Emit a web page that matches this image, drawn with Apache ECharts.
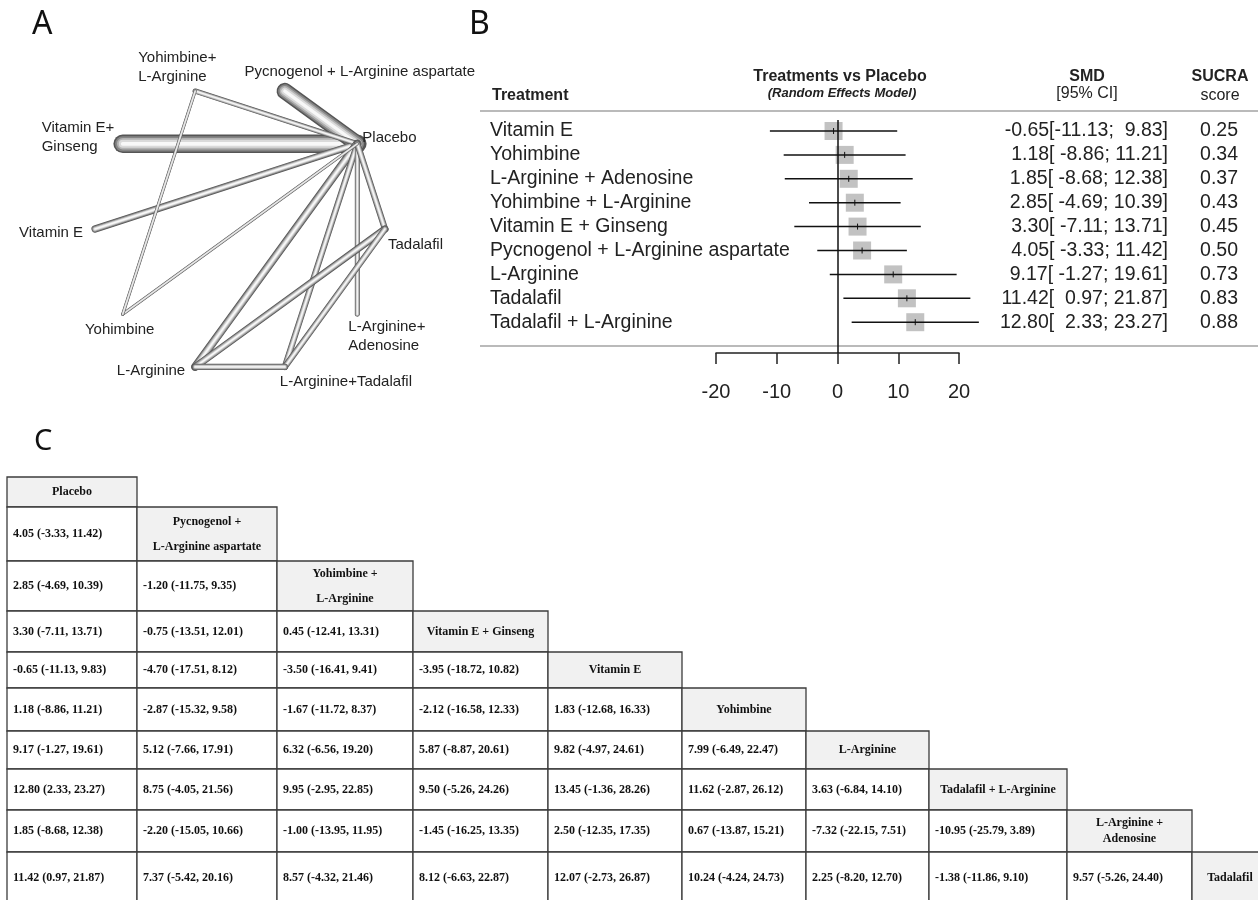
<!DOCTYPE html>
<html>
<head>
<meta charset="utf-8">
<script src="https://cdn.jsdelivr.net/npm/echarts@6.0.0/dist/echarts.min.js"></script>
<style>
  html, body { margin: 0; padding: 0; background: #fff; }
  #fig { width: 1258px; height: 900px; }
</style>
</head>
<body>
<div id="fig"></div>
<script>
// ---- A: network of comparisons ----
// nodes in circle order, starting at 3 o'clock, going anti-clockwise
const netNodes = ['Tadalafil', 'Placebo', 'Pycnogenol + L-Arginine aspartate', 'Yohimbine+\nL-Arginine',
  'Vitamin E+\nGinseng', 'Vitamin E', 'Yohimbine', 'L-Arginine', 'L-Arginine+Tadalafil', 'L-Arginine+\nAdenosine'];
// direct comparisons (node index pairs) and their line weight
const netEdges = [[1, 4], [1, 2], [1, 5], [1, 3], [1, 7], [1, 8], [1, 9], [1, 0], [0, 7], [0, 8], [7, 8], [1, 6], [6, 3]];
const netWeight = [6, 5.3, 2.3, 1.7, 2.7, 2, 1.6, 2, 2.3, 2, 2, 1, 1];

// ---- B: forest plot vs placebo ----
const treatments = ['Vitamin E', 'Yohimbine', 'L-Arginine + Adenosine', 'Yohimbine + L-Arginine', 'Vitamin E + Ginseng',
  'Pycnogenol + L-Arginine aspartate', 'L-Arginine', 'Tadalafil', 'Tadalafil + L-Arginine'];
const smd = [-0.65, 1.18, 1.85, 2.85, 3.30, 4.05, 9.17, 11.42, 12.80];
const ciLow = [-11.13, -8.86, -8.68, -4.69, -7.11, -3.33, -1.27, 0.97, 2.33];
const ciHigh = [9.83, 11.21, 12.38, 10.39, 13.71, 11.42, 19.61, 21.87, 23.27];
const sucra = [0.25, 0.34, 0.37, 0.43, 0.45, 0.50, 0.73, 0.83, 0.88];

// ---- C: league table ----
const leagueNames = ['Placebo', 'Pycnogenol +\nL-Arginine aspartate', 'Yohimbine +\nL-Arginine', 'Vitamin E + Ginseng',
  'Vitamin E', 'Yohimbine', 'L-Arginine', 'Tadalafil + L-Arginine', 'L-Arginine +\nAdenosine', 'Tadalafil'];
const leagueEst = [
  [4.05],
  [2.85, -1.20],
  [3.30, -0.75, 0.45],
  [-0.65, -4.70, -3.50, -3.95],
  [1.18, -2.87, -1.67, -2.12, 1.83],
  [9.17, 5.12, 6.32, 5.87, 9.82, 7.99],
  [12.80, 8.75, 9.95, 9.50, 13.45, 11.62, 3.63],
  [1.85, -2.20, -1.00, -1.45, 2.50, 0.67, -7.32, -10.95],
  [11.42, 7.37, 8.57, 8.12, 12.07, 10.24, 2.25, -1.38, 9.57]
];
const leagueLow = [
  [-3.33],
  [-4.69, -11.75],
  [-7.11, -13.51, -12.41],
  [-11.13, -17.51, -16.41, -18.72],
  [-8.86, -15.32, -11.72, -16.58, -12.68],
  [-1.27, -7.66, -6.56, -8.87, -4.97, -6.49],
  [2.33, -4.05, -2.95, -5.26, -1.36, -2.87, -6.84],
  [-8.68, -15.05, -13.95, -16.25, -12.35, -13.87, -22.15, -25.79],
  [0.97, -5.42, -4.32, -6.63, -2.73, -4.24, -8.20, -11.86, -5.26]
];
const leagueHigh = [
  [11.42],
  [10.39, 9.35],
  [13.71, 12.01, 13.31],
  [9.83, 8.12, 9.41, 10.82],
  [11.21, 9.58, 8.37, 12.33, 16.33],
  [19.61, 17.91, 19.20, 20.61, 24.61, 22.47],
  [23.27, 21.56, 22.85, 24.26, 28.26, 26.12, 14.10],
  [12.38, 10.66, 11.95, 13.35, 17.35, 15.21, 7.51, 3.89],
  [21.87, 20.16, 21.46, 22.87, 26.87, 24.73, 12.70, 9.10, 24.40]
];

// ---- layout ----
const netCenter = [240, 229], netRadius = 145;
const nodePos = netNodes.map((n, i) => {
  const a = i * Math.PI / 5;
  return [netCenter[0] + netRadius * Math.cos(a), netCenter[1] - netRadius * Math.sin(a)];
});
// label offset from node: dx, dy, align
const nodeLabel = [[3, 16, 'left'], [5, -6, 'left'], [75, -19, 'center'], [-57, -24, 'left'], [-81, -6, 'left'],
  [-12, 4, 'right'], [-3, 16, 'center'], [-10, 4, 'right'], [-5, 15, 'left'], [-9, 22, 'left']];

const rowStep = 23.9;
const forestTop = 120, forestBottom = 353;
const yMin = 1 - (131 - forestTop) / rowStep;
const yMax = yMin + (forestBottom - forestTop) / rowStep;

const colW = [130, 140, 136, 135, 134, 124, 123, 138, 125, 76];
const rowH = [30, 54, 50, 41, 36, 43, 38, 41, 42, 52];
const colX = [0]; colW.forEach(w => colX.push(colX[colX.length - 1] + w));
const rowY = [0]; rowH.forEach(h => rowY.push(rowY[rowY.length - 1] + h));

const sans = '"Liberation Sans", Arial, sans-serif';
const serif = '"Liberation Serif", "Times New Roman", serif';

const f2 = v => v.toFixed(2);
const smdText = treatments.map((t, i) =>
  f2(smd[i]).padStart(5) + '[' + f2(ciLow[i]).padStart(6) + '; ' + f2(ciHigh[i]).padStart(5) + ']');

const cells = [];
leagueNames.forEach((name, r) => {
  for (let c = 0; c < r; c++) {
    cells.push({ col: c, row: r, head: false,
      text: f2(leagueEst[r - 1][c]) + ' (' + f2(leagueLow[r - 1][c]) + ', ' + f2(leagueHigh[r - 1][c]) + ')' });
  }
  cells.push({ col: r, row: r, head: true, text: name });
});

const chart = echarts.init(document.getElementById('fig'), null, { renderer: 'canvas' });

const option = {
  animation: false,
  backgroundColor: '#fff',
  grid: [
    { left: 0, top: 0, width: 480, height: 420, outerBoundsMode: 'none' },
    { left: 716, top: forestTop, width: 243, height: forestBottom - forestTop, outerBoundsMode: 'none' },
    { left: 7, top: 477, width: colX[colX.length - 1], height: rowY[rowY.length - 1], outerBoundsMode: 'none' }
  ],
  xAxis: [
    { gridIndex: 0, type: 'value', min: 0, max: 480, show: false },
    {
      gridIndex: 1, type: 'value', min: -20, max: 20, interval: 10,
      axisLine: { lineStyle: { color: '#222', width: 1.5 } },
      axisTick: { length: 11, lineStyle: { color: '#222', width: 1.5 } },
      axisLabel: { fontSize: 20, fontFamily: sans, color: '#222', margin: 29, showMinLabel: true, showMaxLabel: true },
      splitLine: { show: false }
    },
    { gridIndex: 2, type: 'value', min: 0, max: colX[colX.length - 1], show: false }
  ],
  yAxis: [
    { gridIndex: 0, type: 'value', min: 0, max: 420, inverse: true, show: false },
    { gridIndex: 1, type: 'value', min: yMin, max: yMax, inverse: true, show: false },
    { gridIndex: 2, type: 'value', min: 0, max: rowY[rowY.length - 1], inverse: true, show: false }
  ],
  graphic: [
    { type: 'text', x: 32, y: 25, style: { text: 'A', font: '32px "Noto Sans", sans-serif', fill: '#111', verticalAlign: 'middle' } },
    { type: 'text', x: 469, y: 25, style: { text: 'B', font: '32px "Noto Sans", sans-serif', fill: '#111', verticalAlign: 'middle' } },
    { type: 'text', x: 34, y: 442, style: { text: 'C', font: '29px "Noto Sans", sans-serif', fill: '#111', verticalAlign: 'middle' } },
    { type: 'line', shape: { x1: 480, y1: 111, x2: 1258, y2: 111 }, style: { stroke: '#a3a3a3', lineWidth: 1.5 } },
    { type: 'line', shape: { x1: 480, y1: 346, x2: 1258, y2: 346 }, style: { stroke: '#a3a3a3', lineWidth: 1.5 } },
    { type: 'text', x: 492, y: 96, style: { text: 'Treatment', font: 'bold 16px ' + sans, fill: '#222', verticalAlign: 'middle' } },
    { type: 'text', x: 840, y: 77, style: { text: 'Treatments vs Placebo', font: 'bold 16px ' + sans, fill: '#222', align: 'center', verticalAlign: 'middle' } },
    { type: 'text', x: 842, y: 93, style: { text: '(Random Effects Model)', font: 'italic bold 13px ' + sans, fill: '#222', align: 'center', verticalAlign: 'middle' } },
    { type: 'text', x: 1087, y: 77, style: { text: 'SMD', font: 'bold 16px ' + sans, fill: '#222', align: 'center', verticalAlign: 'middle' } },
    { type: 'text', x: 1087, y: 94, style: { text: '[95% CI]', font: '16px ' + sans, fill: '#222', align: 'center', verticalAlign: 'middle' } },
    { type: 'text', x: 1220, y: 77, style: { text: 'SUCRA', font: 'bold 16px ' + sans, fill: '#222', align: 'center', verticalAlign: 'middle' } },
    { type: 'text', x: 1220, y: 96, style: { text: 'score', font: '16px ' + sans, fill: '#222', align: 'center', verticalAlign: 'middle' } }
  ],
  series: [
    {
      // network edges drawn as shaded tubes
      type: 'custom', xAxisIndex: 0, yAxisIndex: 0,
      data: netEdges.map(e => [nodePos[e[0]][0], nodePos[e[0]][1], nodePos[e[1]][0], nodePos[e[1]][1]]),
      encode: { x: [0, 2], y: [1, 3] },
      renderItem(params, api) {
        const p = api.coord([api.value(0), api.value(1)]);
        const q = api.coord([api.value(2), api.value(3)]);
        const w = netWeight[params.dataIndex] * 3.1;
        const layers = [[1, '#555555'], [0.82, '#858585'], [0.62, '#b2b2b2'], [0.42, '#dadada'], [0.2, '#f8f8f8']];
        return {
          type: 'group',
          children: layers.map(l => ({
            type: 'line',
            shape: { x1: p[0], y1: p[1], x2: q[0], y2: q[1] },
            style: { stroke: l[1], lineWidth: Math.max(w * l[0], 0.5), lineCap: 'round' }
          }))
        };
      }
    },
    {
      // network node labels
      type: 'custom', xAxisIndex: 0, yAxisIndex: 0,
      data: nodePos.map(p => [p[0], p[1]]),
      renderItem(params, api) {
        const i = params.dataIndex;
        const p = api.coord([api.value(0), api.value(1)]);
        const l = nodeLabel[i];
        return {
          type: 'text', x: p[0] + l[0], y: p[1] + l[1],
          style: { text: netNodes[i], font: '15px ' + sans, fill: '#222', align: l[2], verticalAlign: 'middle', lineHeight: 19 }
        };
      }
    },
    {
      // forest plot rows
      type: 'custom', xAxisIndex: 1, yAxisIndex: 1,
      data: treatments.map((t, i) => [i + 1, smd[i], ciLow[i], ciHigh[i]]),
      encode: { y: 0, x: [1, 2, 3] },
      renderItem(params, api) {
        const i = params.dataIndex;
        const row = api.value(0);
        const y = api.coord([0, row])[1];
        const xe = api.coord([api.value(1), row])[0];
        const xl = api.coord([api.value(2), row])[0];
        const xh = api.coord([api.value(3), row])[0];
        return {
          type: 'group',
          children: [
            { type: 'rect', shape: { x: xe - 9, y: y - 9, width: 18, height: 18 }, style: { fill: '#c2c2c2' } },
            { type: 'line', shape: { x1: xl, y1: y, x2: xh, y2: y }, style: { stroke: '#111', lineWidth: 1.5 } },
            { type: 'line', shape: { x1: xe, y1: y - 3, x2: xe, y2: y + 3 }, style: { stroke: '#111', lineWidth: 1 } },
            { type: 'text', x: 490, y: y, style: { text: treatments[i], font: '19.5px ' + sans, fill: '#222', verticalAlign: 'middle' } },
            { type: 'text', x: 1168, y: y, style: { text: smdText[i], font: '19.5px ' + sans, fill: '#222', align: 'right', verticalAlign: 'middle' } },
            { type: 'text', x: 1238, y: y, style: { text: sucra[i].toFixed(2), font: '19.5px ' + sans, fill: '#222', align: 'right', verticalAlign: 'middle' } }
          ]
        };
      },
      markLine: {
        silent: true, symbol: ['none', 'none'], label: { show: false },
        lineStyle: { color: '#111', width: 1.5, type: 'solid' },
        data: [{ xAxis: 0 }]
      }
    },
    {
      // league table cells
      type: 'custom', xAxisIndex: 2, yAxisIndex: 2,
      data: cells.map(c => [colX[c.col], rowY[c.row]]),
      renderItem(params, api) {
        const c = cells[params.dataIndex];
        const p0 = api.coord([colX[c.col], rowY[c.row]]);
        const p1 = api.coord([colX[c.col + 1], rowY[c.row + 1]]);
        const w = p1[0] - p0[0], h = p1[1] - p0[1];
        return {
          type: 'group',
          children: [
            { type: 'rect', shape: { x: p0[0], y: p0[1], width: w, height: h },
              style: { fill: c.head ? '#f1f1f1' : '#ffffff', stroke: '#3c3c3c', lineWidth: 1.3 } },
            { type: 'text', x: c.head ? p0[0] + w / 2 : p0[0] + 6, y: p0[1] + h / 2,
              style: { text: c.text, font: 'bold 12px ' + serif, fill: '#111',
                align: c.head ? 'center' : 'left', verticalAlign: 'middle', lineHeight: h >= 48 ? 25 : 16 } }
          ]
        };
      }
    }
  ]
};

chart.setOption(option);
</script>
</body>
</html>
